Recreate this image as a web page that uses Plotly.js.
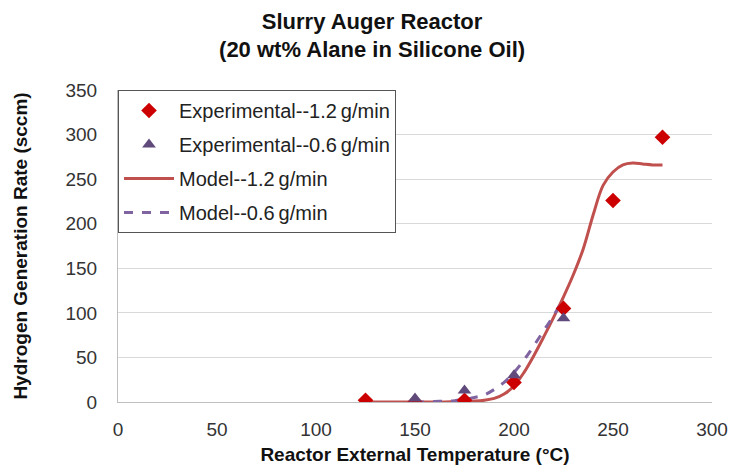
<!DOCTYPE html>
<html>
<head>
<meta charset="utf-8">
<script src="https://cdn.plot.ly/plotly-3.0.1.min.js"></script>
<style>html,body{margin:0;padding:0;background:#fff;}#chart{width:731px;height:466px;}</style>
</head>
<body>
<div id="chart"></div>
<script>
// Experimental data
const exp12T = [125, 150, 175, 200, 225, 250, 275];
const exp12R = [2, 0, 2, 22, 105, 226, 297];
const exp06T = [150, 175, 200, 225];
const exp06R = [4, 13, 30, 94];
// Model curves
const mod12T = [125, 130, 135, 140, 145, 150, 155, 160, 165, 170, 175, 180, 185, 190, 195, 200, 205, 210, 215, 220, 225, 230, 235, 240, 245, 250, 255, 260, 265, 270, 275];
const mod12R = [0, 0, 0, 0, 0, 0, 0, 0, 0, 0.3, 0.5, 1, 2, 4, 9, 18, 33, 52, 73, 95, 118, 143, 172, 210, 243, 258, 266, 268, 267, 266, 266];
const mod06T = [150, 155, 160, 165, 170, 175, 180, 185, 190, 195, 200, 205, 210, 215, 220, 225];
const mod06R = [0, 0, 0.5, 1, 1.5, 3, 5, 8, 14, 22, 33, 47, 63, 80, 97, 116];

const names = ['Experimental--1.2\u2009g/min', 'Experimental--0.6\u2009g/min', 'Model--1.2\u2009g/min', 'Model--0.6\u2009g/min'];

const traces = [
  {x: mod12T, y: mod12R, mode: 'lines', name: names[2], legendgroup: 'c', legendrank: 3,
   line: {color: '#C0504D', width: 3, shape: 'spline'}},
  {x: mod06T, y: mod06R, mode: 'lines', name: names[3], legendgroup: 'd', legendrank: 4,
   line: {color: '#8064A2', width: 3, dash: 'dash', shape: 'spline'}},
  {x: exp12T, y: exp12R, mode: 'markers', name: names[0], legendgroup: 'a', legendrank: 1,
   marker: {symbol: 'diamond', size: 12, color: '#CC0000'}},
  {x: exp06T, y: exp06R, mode: 'markers', name: names[1], legendgroup: 'b', legendrank: 2,
   marker: {symbol: 'triangle-up', size: 12, color: '#604A7B'}}
];

const layout = {
  width: 731, height: 466,
  margin: {l: 118, r: 19, t: 90, b: 64},
  paper_bgcolor: '#fff', plot_bgcolor: '#fff',
  font: {family: 'Liberation Sans, Arial, sans-serif', color: '#222', size: 16},
  title: {
    text: '<b>Slurry Auger Reactor<br>(20 wt% Alane in Silicone Oil)</b>',
    font: {size: 22, color: '#111'},
    x: 0.509, xref: 'container', xanchor: 'center',
    y: 0.938, yref: 'container', yanchor: 'middle'
  },
  xaxis: {
    range: [0, 300], dtick: 50, tick0: 0,
    showgrid: false, zeroline: false,
    showline: true, linecolor: '#BFBFBF', linewidth: 1,
    ticks: '', tickfont: {size: 19, color: '#333'}, ticklabelstandoff: 10,
    title: {text: '<b>Reactor External Temperature (\u00B0C)</b>', font: {size: 19, color: '#111'}, standoff: 8}
  },
  yaxis: {
    range: [0, 350], dtick: 50, tick0: 0,
    showgrid: true, gridcolor: '#D9D9D9', gridwidth: 1,
    zeroline: false, showline: true, linecolor: '#BFBFBF', linewidth: 1,
    ticks: '', tickfont: {size: 19, color: '#333'}, ticklabelstandoff: 16,
    title: {text: '<b>Hydrogen Generation Rate (sccm)</b>', font: {size: 19, color: '#111'}, standoff: 32}
  },
  showlegend: true,
  legend: {
    x: 0.0, y: 1.0, xanchor: 'left', yanchor: 'top',
    bgcolor: '#fff', bordercolor: '#555', borderwidth: 1,
    font: {size: 20, color: '#222'},
    itemwidth: 50,
    tracegroupgap: 5, traceorder: 'grouped'
  }
};

Plotly.newPlot('chart', traces, layout, {displayModeBar: false, staticPlot: true});
</script>
</body>
</html>
